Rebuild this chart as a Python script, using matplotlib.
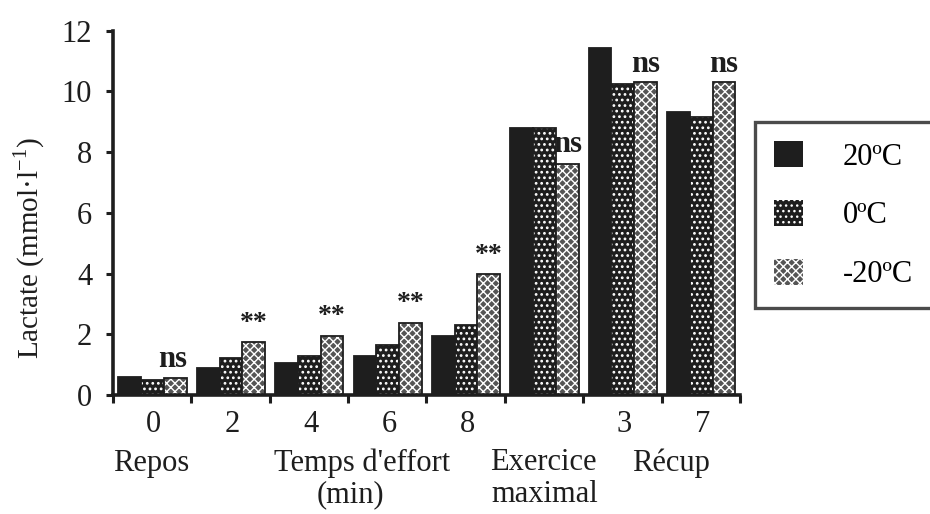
import matplotlib
matplotlib.use("Agg")
import matplotlib.pyplot as plt
import numpy as np
from matplotlib.patches import Patch

groups = ["0", "2", "4", "6", "8", "", "3", "7"]
series_names = ["20ºC", "0ºC", "-20ºC"]
v20 = [0.58, 0.88, 1.04, 1.30, 1.95, 8.80, 11.42, 9.33]
v0 = [0.48, 1.21, 1.28, 1.65, 2.29, 8.80, 10.23, 9.17]
vm20 = [0.55, 1.75, 1.95, 2.38, 3.97, 7.61, 10.32, 10.30]
annotations = ["ns", "**", "**", "**", "**", "ns", "ns", "ns"]

plt.rcParams['font.family'] = ['Liberation Serif', 'DejaVu Serif']
INK = "#1e1e1e"
FS = 22

fig = plt.figure(figsize=(9.30, 5.14), dpi=100)
ax = fig.add_axes([0.1215, 0.2315, 0.6742, 0.7088])

x = np.arange(len(groups))
w = 0.29
start = 0.07
styles = [
    dict(face=INK, hatch=None, hlw=1.0),
    dict(face=INK, hatch="...", hlw=1.2),
    dict(face="#555555", hatch="xxxx", hlw=1.0),
]
allvals = [v20, v0, vm20]
for k, (vals, st) in enumerate(zip(allvals, styles)):
    pos = x + start + k * w
    with plt.rc_context({'hatch.linewidth': st["hlw"]}):
        ax.bar(pos, vals, width=w, align="edge", color=st["face"], hatch=st["hatch"],
               edgecolor="white" if st["hatch"] else st["face"], linewidth=0)
    ax.bar(pos, vals, width=w, align="edge", fill=False, edgecolor=INK, linewidth=1.3)

# annotations
for i, a in enumerate(annotations):
    cx = x[i] + start + 2.5 * w
    if a == "**":
        ax.text(cx, vm20[i] + 0.62, "**", ha="center", va="center",
                fontsize=20, fontweight="bold", color=INK)
    elif a == "ns":
        if i == 5:
            ax.text(x[i] + start + 2 * w - 0.03, 8.0, a, ha="left", va="baseline",
                    fontsize=FS, fontweight="bold", color=INK)
        elif i == 0:
            ax.text(cx - 0.04, vm20[i] + 0.36, a, ha="center", va="baseline",
                    fontsize=FS, fontweight="bold", color=INK)
        else:
            ax.text(cx, 10.64, a, ha="center", va="baseline",
                    fontsize=FS, fontweight="bold", color=INK)

ax.set_xlim(0, len(groups))
ax.set_ylim(0, 12)
ax.set_yticks(np.arange(0, 13, 2))
ax.set_xticks(np.arange(0, len(groups) + 1))
ax.set_xticklabels([])
ax.tick_params(axis="y", direction="out", length=5, width=2.2, labelsize=FS, pad=10, colors=INK)
ax.tick_params(axis="x", direction="out", length=6, width=2.2, colors=INK)
for s in ["top", "right"]:
    ax.spines[s].set_visible(False)
for s in ["left", "bottom"]:
    ax.spines[s].set_linewidth(2.6)
    ax.spines[s].set_color(INK)

for i, g in enumerate(groups):
    ax.text(x[i] + 0.52, -0.97, g, ha="center", va="center", fontsize=FS, color=INK, clip_on=False)

def fx(px):
    return px / 930.0

def fy(py):
    return 1 - py / 514.0

cat_texts = [
    ("Repos", 113, 463, "left"),
    ("Temps d'effort", 362, 463, "center"),
    ("(min)", 350, 495, "center"),
    ("Exercice", 490, 463, "left"),
    ("maximal", 491, 495, "left"),
    ("Récup", 632, 463, "left"),
]
for t, px, py, ha in cat_texts:
    fig.text(fx(px), fy(py), t, ha=ha, va="center", fontsize=FS, color=INK)

fig.text(fx(29), fy(248), "Lactate (mmol·l$^{\\mathregular{-1}}$)", rotation=90,
         ha="center", va="center", fontsize=21, color=INK)

handles = []
for st in styles:
    p = Patch(facecolor=st["face"], hatch=st["hatch"],
              edgecolor="white" if st["hatch"] else st["face"], linewidth=0)
    handles.append(p)
leg = fig.legend(handles, series_names, loc="upper left", bbox_to_anchor=(fx(755), fy(122)),
                 frameon=True, fancybox=False, edgecolor=INK, fontsize=FS,
                 handlelength=0.95, handleheight=0.95, handletextpad=1.3, labelspacing=0.92,
                 borderpad=0.62, borderaxespad=0, alignment="right")
leg.get_frame().set_linewidth(2.4)
for t in leg.get_texts():
    t.set_ha("right")

fig.savefig("out.png", dpi=100, facecolor="white")
